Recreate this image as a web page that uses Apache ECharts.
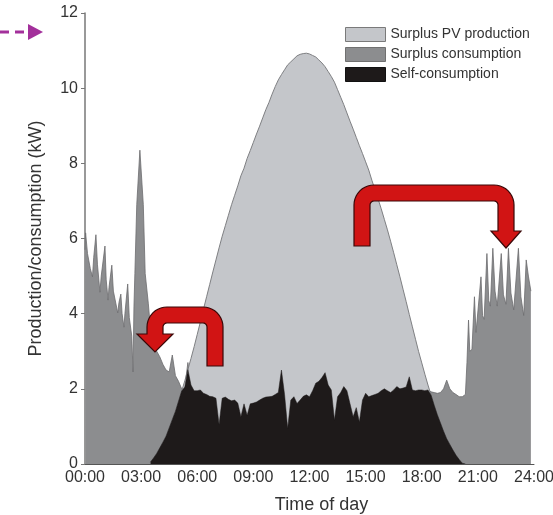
<!DOCTYPE html>
<html>
<head>
<meta charset="utf-8">
<script src="https://cdn.jsdelivr.net/npm/echarts@6/dist/echarts.min.js"></script>
<style>
html,body{margin:0;padding:0;background:#fff;}
#chart{width:553px;height:515px;}
</style>
</head>
<body>
<div id="chart"></div>
<script>
// ---------- DATA (kW) ----------
// Night (early morning) consumption, irregular times
const nightAmTimes = ["00:00","00:02","00:08","00:17","00:24","00:28","00:35","00:40","00:48","00:52",
  "01:04","01:08","01:14","01:17","01:26","01:31","01:45","01:49","01:55","01:59",
  "02:05","02:08","02:17","02:22","02:30","02:34","02:37","02:40","02:46","02:56",
  "03:07","03:13","03:23"];
const nightAmLoad = [5.7,6.15,5.6,5.2,4.98,5.5,6.1,5.3,4.57,5.0,
  5.8,4.9,4.36,4.7,5.29,4.6,4.02,4.3,4.52,4.0,
  3.64,4.0,4.79,3.9,3.4,2.45,4.2,5.07,6.9,8.35,
  6.9,5.07,4.28];

// Daytime, every 10 minutes from 03:30 to 20:20 (one row = one hour)
const dayStart = "03:30";
const dayStepMinutes = 10;
const dayLoad = [
  3.6, 3.2, 3.0, 2.85, 2.65, 2.5,
  2.45, 2.9, 2.35, 2.2, 2.0, 2.05,
  2.7, 2.1, 1.95, 1.95, 1.97, 1.88,
  1.85, 1.8, 1.79, 1.75, 1.05, 1.75,
  1.78, 1.72, 1.68, 1.7, 1.62, 1.26,
  1.6, 1.3, 1.6, 1.62, 1.65, 1.7,
  1.75, 1.78, 1.79, 1.8, 1.85, 1.9,
  2.5, 1.85, 0.95, 1.7, 1.79, 1.61,
  1.7, 1.8, 1.84, 1.79, 1.95, 2.15,
  2.2, 2.3, 2.43, 2.1, 1.97, 1.17,
  1.79, 1.9, 2.06, 1.95, 1.6, 1.26,
  1.5, 1.12, 1.7, 1.88, 1.79, 1.82,
  1.85, 1.88, 1.95, 2.0, 1.95, 1.9,
  1.97, 2.06, 2.0, 2.02, 2.05, 2.32,
  1.97, 1.95, 1.97, 1.97, 1.95, 1.97,
  1.92, 1.9, 1.88, 1.9, 2.0, 2.23,
  2.0, 1.9, 1.85, 1.79, 1.79, 1.85
];
const dayPv = [
  0.05, 0.16, 0.28, 0.43, 0.58, 0.74,
  0.96, 1.18, 1.40, 1.67, 1.94, 2.21,
  2.51, 2.81, 3.12, 3.45, 3.78, 4.12,
  4.45, 4.78, 5.11, 5.43, 5.75, 6.06,
  6.34, 6.62, 6.90, 7.15, 7.40, 7.67,
  7.87, 8.13, 8.34, 8.56, 8.78, 8.99,
  9.21, 9.43, 9.62, 9.84, 10.04, 10.22,
  10.36, 10.49, 10.62, 10.70, 10.78, 10.86,
  10.90, 10.92, 10.93, 10.91, 10.87, 10.83,
  10.75, 10.67, 10.57, 10.44, 10.31, 10.16,
  9.96, 9.76, 9.56, 9.34, 9.12, 8.91,
  8.69, 8.47, 8.26, 8.04, 7.82, 7.55,
  7.30, 7.05, 6.79, 6.51, 6.23, 5.93,
  5.62, 5.30, 4.98, 4.65, 4.32, 3.98,
  3.65, 3.32, 2.99, 2.69, 2.39, 2.10,
  1.83, 1.56, 1.31, 1.09, 0.87, 0.67,
  0.52, 0.37, 0.23, 0.12, 0.02, 0.00
];

// Evening consumption, irregular times
const nightPmTimes = ["20:23","20:25","20:28","20:30","20:34","20:41","20:49","20:54","20:59","21:10",
  "21:15","21:20","21:29","21:35","21:40","21:48","21:55","22:02","22:15","22:22",
  "22:30","22:38","22:46","22:55","23:10","23:18","23:27","23:35","23:42","23:50"];
const nightPmLoad = [1.9,2.7,2.75,3.83,3.0,3.05,4.45,3.5,3.45,4.98,
  3.95,3.85,5.6,4.35,4.2,5.74,4.6,4.2,5.6,4.5,
  4.25,5.74,4.55,4.1,5.74,4.45,3.95,5.43,5.0,4.6];

const xTicks = [0,3,6,9,12,15,18,21,24];
const legendNames = ["Surplus PV production","Surplus consumption","Self-consumption"];

// ---------- BUILD ----------
const toHours = t => { const p = t.split(':'); return +p[0] + (+p[1]) / 60; };
const dayStartH = toHours(dayStart);
const dayHours = dayLoad.map((_, i) => dayStartH + i * dayStepMinutes / 60);

const loadData = []
  .concat(nightAmTimes.map((t, i) => [toHours(t), nightAmLoad[i]]))
  .concat(dayHours.map((h, i) => [h, dayLoad[i]]))
  .concat(nightPmTimes.map((t, i) => [toHours(t), nightPmLoad[i]]));
const pvData = dayHours.map((h, i) => [h, dayPv[i]]);
const selfData = dayHours.map((h, i) => [h, Math.min(dayPv[i], dayLoad[i])]);

const C_PV = '#c4c6ca', C_LOAD = '#8c8d8f', C_SELF = '#1e1a1a';
const FONT = 'Liberation Sans, Arial, Helvetica, sans-serif';

function arc(cx, cy, r, a0, a1, n) {
  const pts = [];
  for (let i = 0; i <= n; i++) {
    const a = (a0 + (a1 - a0) * i / n) * Math.PI / 180;
    pts.push([cx + r * Math.cos(a), cy + r * Math.sin(a)]);
  }
  return pts;
}
const arrow1 = [[223,366]]
  .concat(arc(203,327,20,0,-90,10))
  .concat(arc(167,327,20,-90,-180,10))
  .concat([[147,334],[137,334],[155,352],[173,334],[163,334]])
  .concat(arc(167,327,4,180,270,5))
  .concat(arc(203,327,4,270,360,5))
  .concat([[207,366]]);
const arrow2 = [[354,246]]
  .concat(arc(374,205,20,180,270,10))
  .concat(arc(494,205,20,270,360,10))
  .concat([[514,231],[521,231],[506,248],[491,231],[498,231]])
  .concat(arc(494,205,4,0,-90,5))
  .concat(arc(374,205,4,-90,-180,5))
  .concat([[370,246]]);

const chart = echarts.init(document.getElementById('chart'), null, {renderer: 'canvas'});
chart.setOption({
  animation: false,
  backgroundColor: '#fff',
  textStyle: {fontFamily: FONT},
  grid: {left: 85, right: 19, top: 13, bottom: 51, containLabel: false, outerBoundsMode: 'none'},
  legend: {
    orient: 'vertical', left: 345, top: 27, padding: 0,
    itemWidth: 40, itemHeight: 14, itemGap: 5,
    selectedMode: false,
    textStyle: {fontSize: 14, color: '#333', fontFamily: FONT},
    data: [
      {name: legendNames[0], icon: 'rect', itemStyle: {color: C_PV, borderColor: '#7a7a7a', borderWidth: 1}},
      {name: legendNames[1], icon: 'rect', itemStyle: {color: C_LOAD, borderColor: '#707070', borderWidth: 1}},
      {name: legendNames[2], icon: 'rect', itemStyle: {color: C_SELF, borderColor: '#111', borderWidth: 1}}
    ]
  },
  xAxis: {
    type: 'value', min: xTicks[0], max: xTicks[xTicks.length - 1], interval: 3,
    name: 'Time of day', nameLocation: 'middle', nameGap: 32,
    nameTextStyle: {fontSize: 18, color: '#333', fontFamily: FONT, padding: [0,0,0,24]},
    axisLine: {show: true, lineStyle: {color: '#555', width: 1}},
    axisTick: {show: false},
    splitLine: {show: false},
    axisLabel: {
      fontSize: 16, color: '#333', margin: 6, showMinLabel: true, showMaxLabel: true,
      formatter: v => (v < 10 ? '0' : '') + v + ':00'
    }
  },
  yAxis: {
    type: 'value', min: 0, max: 12, interval: 2,
    name: 'Production/consumption (kW)', nameLocation: 'middle', nameGap: 40, nameRotate: 90,
    nameTextStyle: {fontSize: 18, color: '#333', fontFamily: FONT},
    axisLine: {show: true, lineStyle: {color: '#777', width: 1.5}},
    axisTick: {show: true, length: 4, lineStyle: {color: '#777'}},
    splitLine: {show: false},
    axisLabel: {fontSize: 16, color: '#333', margin: 7}
  },
  series: [
    {
      name: legendNames[1], type: 'line', data: loadData, symbol: 'none', showSymbol: false, z: 1,
      itemStyle: {color: C_LOAD},
      lineStyle: {color: '#6c6c6e', width: 0.8},
      areaStyle: {color: C_LOAD, opacity: 1}
    },
    {
      name: legendNames[0], type: 'line', data: pvData, symbol: 'none', showSymbol: false, z: 2,
      itemStyle: {color: C_PV},
      lineStyle: {color: '#7e7f82', width: 1},
      areaStyle: {color: C_PV, opacity: 1}
    },
    {
      name: legendNames[2], type: 'line', data: selfData, symbol: 'none', showSymbol: false, z: 3,
      itemStyle: {color: C_SELF},
      lineStyle: {color: C_SELF, width: 0.5},
      areaStyle: {color: C_SELF, opacity: 1}
    }
  ],
  graphic: [
    {type: 'polygon', z: 100, shape: {points: arrow1},
     style: {fill: '#d11414', stroke: '#3a0808', lineWidth: 1.2}},
    {type: 'polygon', z: 100, shape: {points: arrow2},
     style: {fill: '#d11414', stroke: '#3a0808', lineWidth: 1.2}},
    {type: 'line', z: 100, shape: {x1: 0, y1: 32, x2: 29, y2: 32},
     style: {stroke: '#a3309b', lineWidth: 3, lineDash: [9, 6]}},
    {type: 'polygon', z: 100, shape: {points: [[28,24],[28,40],[43,32]]},
     style: {fill: '#a3309b'}}
  ]
});
</script>
</body>
</html>
